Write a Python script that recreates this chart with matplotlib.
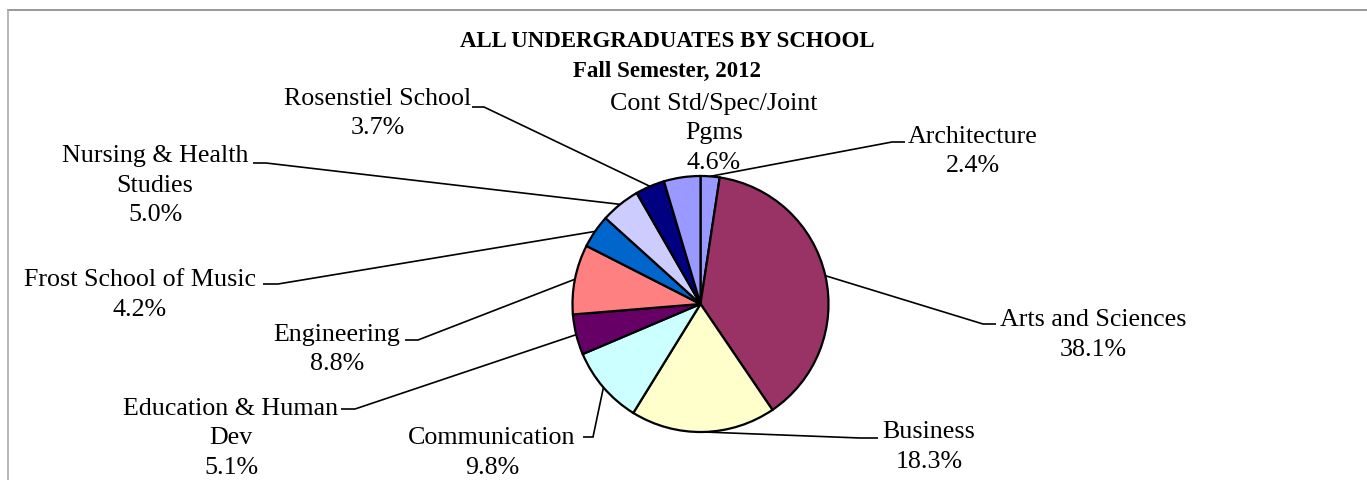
import numpy as np
import matplotlib
matplotlib.use("Agg")
import matplotlib.pyplot as plt
from matplotlib.lines import Line2D

# ---- data ----
schools = ["Architecture", "Arts and Sciences", "Business", "Communication",
           "Education & Human\nDev", "Engineering", "Frost School of Music",
           "Nursing & Health\nStudies", "Rosenstiel School", "Cont Std/Spec/Joint\nPgms"]
shares = [2.4, 38.1, 18.3, 9.8, 5.1, 8.8, 4.2, 5.0, 3.7, 4.6]
colors = ["#9999FF", "#993366", "#FFFFCC", "#CCFFFF", "#660066",
          "#FF8080", "#0066CC", "#CCCCFF", "#000080", "#9999FF"]
title_lines = ["ALL UNDERGRADUATES BY SCHOOL", "Fall Semester, 2012"]

# ---- layout (pixel coordinates, y from top) ----
W, H = 1367, 480
cx, cy, R = 700.5, 304, 128
# label block: (center x, first baseline y)
label_pos = [(973, 143), (1093, 326), (929, 438), (492, 444), (231, 415),
             (337, 341), (140, 286), (155, 162), (378, 105), (714, 110)]
# leader: (text-side x, elbow x, y) horizontal segment; None = no leader
leaders = [(905, 892, 142), (996, 983, 324), (878, 860, 438), (583, 593, 437),
           (341, 355, 409), (405, 418, 340), (263, 278, 284), (253, 266, 163),
           (472, 484, 107), None]
line_gap = 29.5
FONT = "Liberation Serif"
FS = 18.7

fig = plt.figure(figsize=(W / 100, H / 100), dpi=100)
ax = fig.add_axes([0, 0, 1, 1])

def fy(y):
    return H - y

wedges, _ = ax.pie(shares, colors=colors, startangle=90, counterclock=False,
                   center=(cx, fy(cy)), radius=R,
                   wedgeprops=dict(edgecolor="black", linewidth=1.6))
ax.set_xlim(0, W)
ax.set_ylim(0, H)
ax.set_aspect("equal")
ax.axis("off")

# title
for i, t in enumerate(title_lines):
    ax.text(667, fy(47 + i * 30), t, ha="center", va="baseline",
            fontfamily=FONT, fontsize=16.5, fontweight="bold")

# labels
for lab, val, (lx, ly) in zip(schools, shares, label_pos):
    lines = lab.split("\n") + [f"{val:.1f}%"]
    for i, s in enumerate(lines):
        ax.text(lx, fy(ly + i * line_gap), s, ha="center", va="baseline",
                fontfamily=FONT, fontsize=FS)

# leader lines
for w, ld in zip(wedges, leaders):
    if ld is None:
        continue
    mid = np.deg2rad((w.theta1 + w.theta2) / 2)
    px = cx + R * np.cos(mid)
    py = fy(cy) + R * np.sin(mid)
    x0, x1, y = ld
    ax.plot([x0, x1, px], [fy(y), fy(y), py], color="black", lw=1.2,
            solid_capstyle="butt", solid_joinstyle="miter", zorder=0.5)

# partial chart border (top and left)
fig.add_artist(Line2D([8 / W, 1], [1 - 10 / H, 1 - 10 / H], color="#888888", lw=1.2))
fig.add_artist(Line2D([8 / W, 8 / W], [0, 1 - 10 / H], color="#AAAAAA", lw=1.2))

fig.savefig("out.png", dpi=100)
